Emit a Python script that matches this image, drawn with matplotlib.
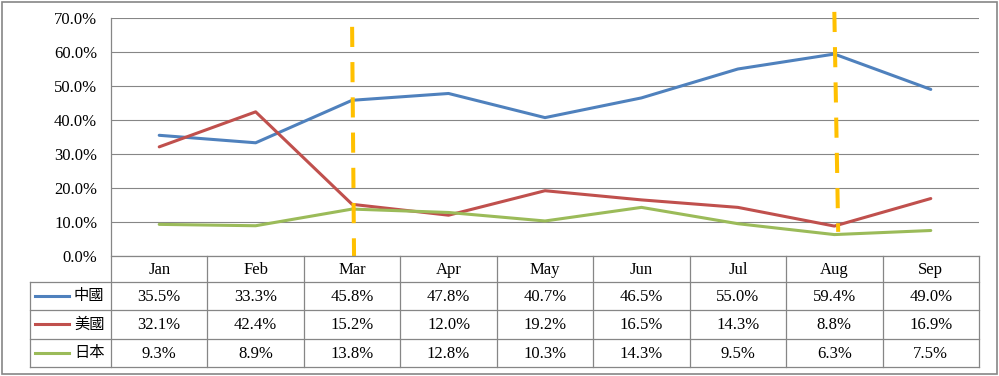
import numpy as np
import matplotlib.pyplot as plt
from matplotlib.patches import Rectangle

months = ['Jan', 'Feb', 'Mar', 'Apr', 'May', 'Jun', 'Jul', 'Aug', 'Sep']
series_names = ['中國', '美國', '日本']
china = [35.5, 33.3, 45.8, 47.8, 40.7, 46.5, 55.0, 59.4, 49.0]
usa = [32.1, 42.4, 15.2, 12.0, 19.2, 16.5, 14.3, 8.8, 16.9]
japan = [9.3, 8.9, 13.8, 12.8, 10.3, 14.3, 9.5, 6.3, 7.5]
colors = ['#4F81BD', '#C0504D', '#9BBB59']
yticks = [0, 10, 20, 30, 40, 50, 60, 70]

# highlighted months (orange dashed markers)
marks = ['Mar', 'Aug']
mark_top = [67.4, 71.8]
mark_bottom = [0.0, 7.1]
mark_tilt = [0.02, 0.04]

serif = 'Liberation Serif'
cjk = ['Noto Sans CJK TC', 'DejaVu Sans']
grey = '#868686'
fs = 12

W, H = 999, 376
fig = plt.figure(figsize=(W / 100, H / 100), dpi=100)

# pixel layout
left, right, top, bottom = 111, 979, 18, 256
rows = [256, 281.5, 310, 338.5, 367]
tab_left = 30
colw = (right - left) / len(months)

ax = fig.add_axes([left / W, (H - bottom) / H, (right - left) / W, (bottom - top) / H])
x = np.arange(len(months)) + 0.5
for vals, c in zip([china, usa, japan], colors):
    ax.plot(x, vals, color=c, lw=2.2, solid_capstyle='round', zorder=3)
ax.set_xlim(0, len(months))
ax.set_ylim(0, 70)
ax.set_yticks(yticks)
ax.set_yticklabels([f'{v:.1f}%' for v in yticks], fontfamily=serif, fontsize=fs)
ax.tick_params(axis='y', length=0, pad=10)
ax.set_xticks([])
for v in yticks:
    ax.axhline(v, color=grey, lw=0.8, zorder=1)
for s in ax.spines.values():
    s.set_visible(False)

for m, t, b, tilt in zip(marks, mark_top, mark_bottom, mark_tilt):
    i = months.index(m) + 0.5
    ax.plot([i, i + tilt], [t, b], color='#FFC000', lw=2.9,
            linestyle=(0, (5, 3.75)), dash_capstyle='butt', clip_on=False, zorder=4)

# overlay for the data table and frame
ov = fig.add_axes([0, 0, 1, 1])
ov.set_xlim(0, W)
ov.set_ylim(H, 0)
ov.axis('off')
ov.add_patch(Rectangle((1.5, 1.5), W - 4, H - 3.5, fill=False, edgecolor=grey, lw=1.2))

lk = dict(color=grey, lw=0.9)
ov.plot([left, left], [top, rows[-1]], **lk)
ov.plot([left, right], [rows[0], rows[0]], **lk)
for r in rows[1:]:
    ov.plot([tab_left, right], [r, r], **lk)
ov.plot([tab_left, tab_left], [rows[1], rows[-1]], **lk)
for k in range(1, len(months) + 1):
    xx = left + k * colw
    ov.plot([xx, xx], [rows[0], rows[-1]], **lk)

for k, m in enumerate(months):
    cx = left + (k + 0.5) * colw
    ov.text(cx, (rows[0] + rows[1]) / 2 + 1, m, ha='center', va='center',
            fontfamily=serif, fontsize=fs)

for j, (name, vals, c) in enumerate(zip(series_names, [china, usa, japan], colors)):
    cy = (rows[j + 1] + rows[j + 2]) / 2
    ov.plot([35, 69], [cy, cy], color=c, lw=2.2)
    ov.text(74, cy, name, ha='left', va='center', family=cjk, fontsize=11)
    for k, v in enumerate(vals):
        cx = left + (k + 0.5) * colw
        ov.text(cx, cy + 1, f'{v:.1f}%', ha='center', va='center',
                fontfamily=serif, fontsize=fs)

fig.savefig('out.png', dpi=100)
